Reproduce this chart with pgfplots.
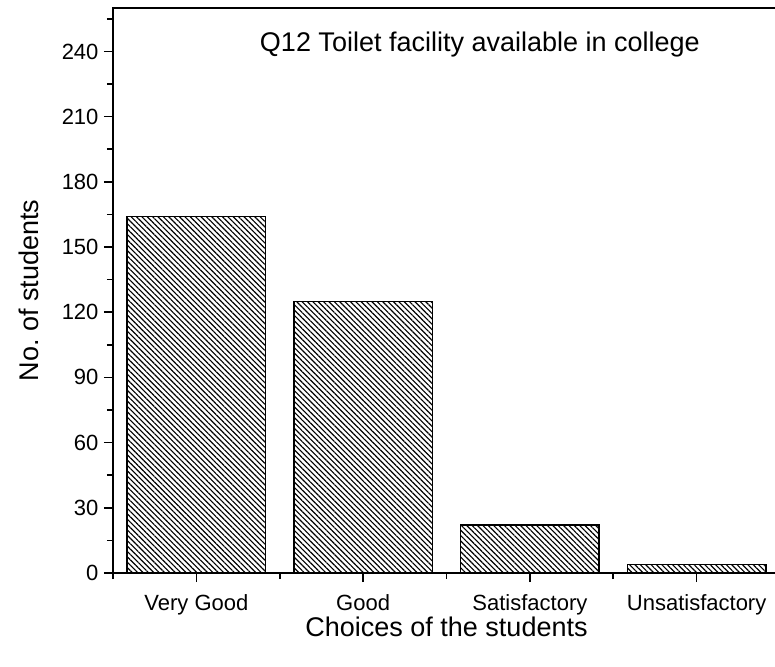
\documentclass[border=0pt]{standalone}
\usepackage{fontspec}
\setmainfont{Liberation Sans}
\usepackage{pgfplots}
\pgfplotsset{compat=1.18}
\usetikzlibrary{patterns.meta}
\begin{document}
\begin{tikzpicture}
\begin{axis}[
  at={(113pt,93pt)}, anchor=south west,
  scale only axis,
  width=667pt, height=565pt,
  xmin=-0.5, xmax=3.5,
  ymin=0, ymax=260,
  xtick={0,1,2,3},
  xticklabels={Very Good,Good,Satisfactory,Unsatisfactory},
  minor xtick={-0.5,0.5,1.5,2.5,3.5},
  ytick={0,30,...,240},
  minor ytick={15,45,...,255},
  tick align=outside,
  xtick pos=bottom, ytick pos=left,
  major tick length=9pt, minor tick length=6pt,
  every tick/.style={line width=1.6pt, black},
  axis line style={line width=1.8pt},
  /pgf/number format/assume math mode=true,
  ticklabel style={font=\fontsize{22}{26}\selectfont},
  xticklabel style={yshift=-9pt},
  yticklabel style={xshift=-2pt},
  ylabel={No.\ of students},
  xlabel={Choices of the students},
  label style={font=\fontsize{27}{32}\selectfont},
  ylabel style={yshift=16pt},
  xlabel style={yshift=5pt},
  ybar, bar width=0.83,
]
\addplot[draw=black, line width=1.4pt,
  pattern={Lines[angle=-45, distance=3.8pt, line width=1.15pt]}]
  coordinates {(0,164) (1,125) (2,22) (3,4)};
\node[anchor=center, font=\fontsize{27}{32}\selectfont] at (rel axis cs:0.55,0.935) {Q12 Toilet facility available in college};
\end{axis}
\pgfresetboundingbox
\path[use as bounding box] (0,0) rectangle (775pt,666pt);
\end{tikzpicture}
\end{document}
